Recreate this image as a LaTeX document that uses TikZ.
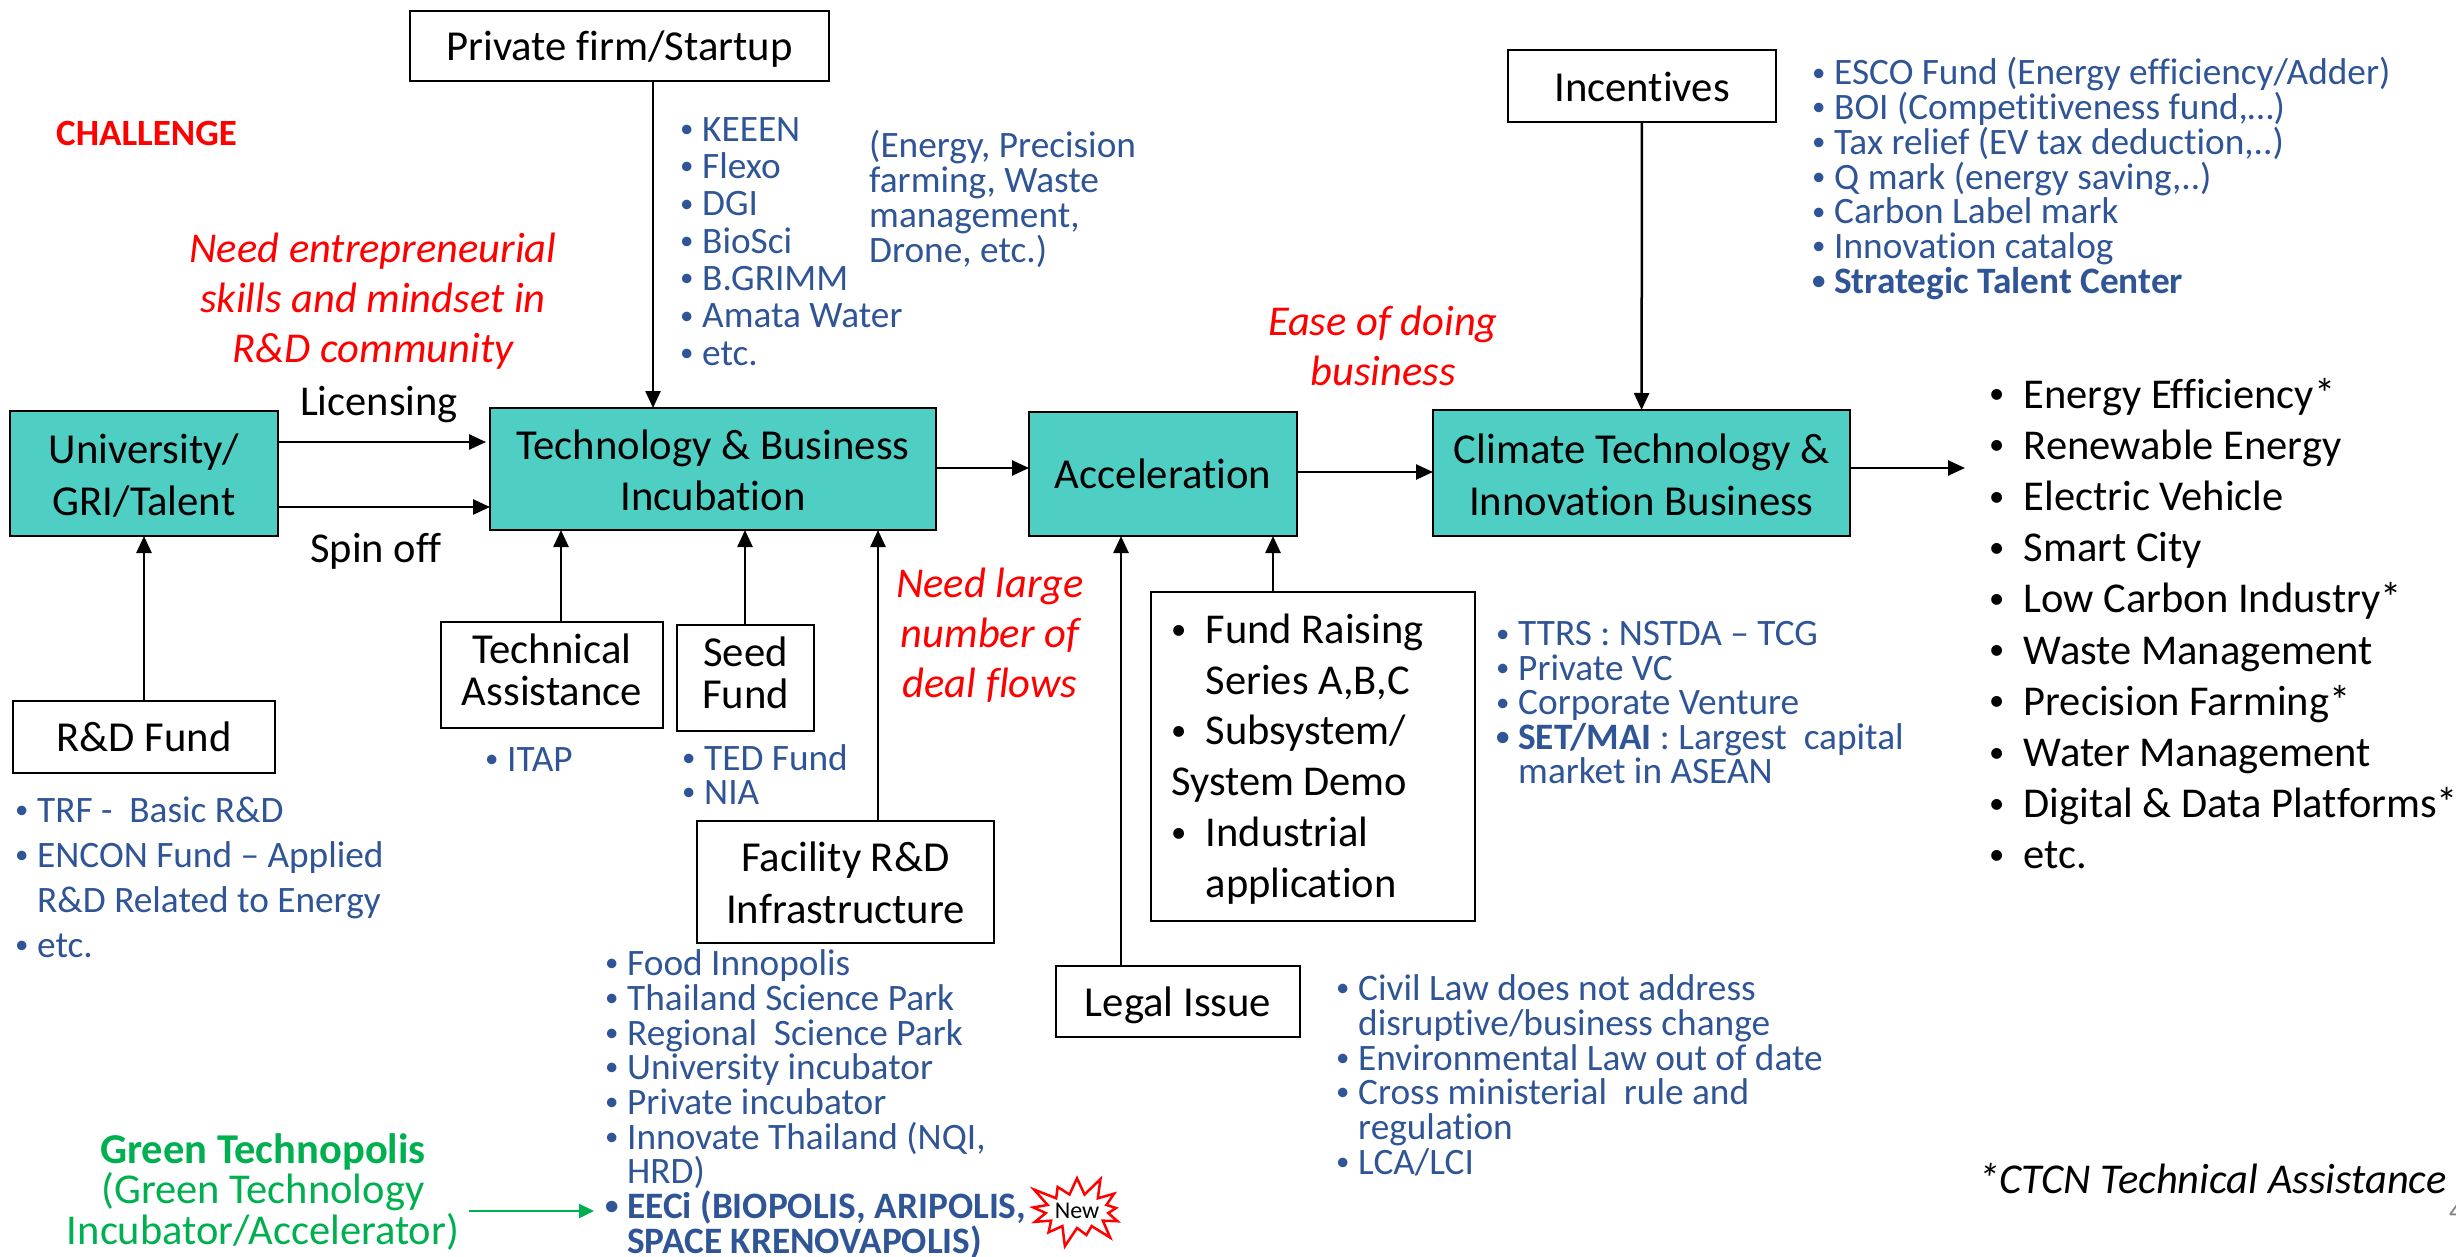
\documentclass[tikz,border=0pt]{standalone}
\usepackage{fontspec}
\setmainfont{Carlito}[Ligatures=NoCommon]
\usetikzlibrary{arrows.meta,shapes.symbols}
\definecolor{teal1}{HTML}{4FCEC4}
\definecolor{blue1}{HTML}{2F5597}
\definecolor{green1}{HTML}{00B050}
\newcommand\fs[2]{\fontsize{#1}{#2}\selectfont\lineskiplimit=-100pt\relax}
\newcommand\dotb{\raisebox{.1em}{\scalebox{.72}{\textbullet}}}
\newcommand\bu{\strut\makebox[22pt][l]{\dotb}}
\newcommand\co{\strut\hspace*{22pt}}
\newcommand\bk{\strut\makebox[34.5pt][l]{\dotb}}
\newcommand\ck{\strut\hspace*{34.5pt}}
\newcommand\tA{\rule{0pt}{40pt}}
\newcommand\tB{\rule[-11pt]{0pt}{11pt}}
\newcommand\up[1]{\rule{0pt}{#1pt}}
\tikzset{
 boxtext/.style={align=center,inner sep=0pt,outer sep=0pt,font=\fs{42.7}{#1},execute at begin node=\tA,execute at end node=\tB},
 tealbox/.style={draw=black,fill=teal1,line width=2.5pt,boxtext=51.5},
 whitebox/.style={draw=black,fill=white,line width=2pt,boxtext=#1},
 whitebox/.default=51.5,
 arr/.style={line width=2.5pt,-{Triangle[length=17pt,width=15pt]}},
 blue32/.style={text=blue1,align=left,anchor=north west,inner sep=0pt,font=\fs{37.3}{#1}},
 redtext/.style={text=red,align=center,inner sep=0pt,font=\fs{42.5}{50}\itshape},
 plain/.style={inner sep=0pt,font=\fs{42.5}{51}},
}
\begin{document}
\begin{tikzpicture}[x=1pt,y=-1pt]
\path[use as bounding box,fill=white] (0,0) rectangle (2456,1257);
% boxes
\node[whitebox,minimum width=419pt,minimum height=70pt] (priv) at (619.5,46) {Private firm/Startup};
\node[whitebox,minimum width=268pt,minimum height=72pt] (inc) at (1642,86) {\up{43}Incentives};
\node[tealbox,minimum width=268pt,minimum height=125pt] (uni) at (144,473.5) {\up{43}University/\\GRI/Talent};
\node[tealbox,minimum width=446pt,minimum height=122pt] (tech) at (713,469) {\up{43}Technology \& Business\\Incubation};
\node[tealbox,minimum width=268pt,minimum height=124pt] (acc) at (1163,474) {Acceleration};
\node[tealbox,minimum width=417pt,minimum height=126pt] (clim) at (1641.5,473) {\up{44}Climate Technology \&\\Innovation Business};
\node[whitebox,minimum width=262pt,minimum height=72pt] (rd) at (144,737) {R\&D Fund};
\node[whitebox=42,minimum width=222pt,minimum height=106pt] (ta) at (552,675) {Technical\\Assistance};
\node[whitebox=42,minimum width=137pt,minimum height=106pt] (seed) at (745.5,678) {Seed\\Fund};
\node[whitebox,minimum width=297pt,minimum height=122pt] (fac) at (845.5,882) {\up{42}Facility R\&D\\Infrastructure};
\node[draw=black,fill=white,line width=2pt,inner sep=0pt,outer sep=0pt,minimum width=324pt,minimum height=329pt] (fund) at (1313,756.5) {};
\node[whitebox,minimum width=244pt,minimum height=71pt] (legal) at (1178,1001.5) {Legal Issue};
\node[anchor=north west,align=left,inner sep=0pt,font=\fs{42.5}{50.8}] (fundt) at (1171,607.5) {\bk Fund Raising\\\ck Series A,B,C\\\bk Subsystem/\\\strut System Demo\\\bk Industrial\\\ck application};
% named x positions
\coordinate (xp) at (653,0);
\coordinate (xr) at (561,0);
\coordinate (xs) at (745,0);
\coordinate (xf) at (878,0);
\coordinate (xl) at (1121,0);
\coordinate (xq) at (1273,0);
\coordinate (y1) at (0,442);
\coordinate (y2) at (0,507);
\coordinate (y3) at (0,468);
\coordinate (y4) at (0,472);
\coordinate (out) at (1965,468);
\coordinate (gs) at (469,1211);
\coordinate (ge) at (594,1211);
% connectors
\draw[arr] (priv.south -| xp) -- (tech.north -| xp);
\draw[arr,shorten >=4pt] (uni.east |- y1) -- (tech.west |- y1);
\draw[arr] (uni.east |- y2) -- (tech.west |- y2);
\draw[arr] (tech.east |- y3) -- (acc.west |- y3);
\draw[arr] (acc.east |- y4) -- (clim.west |- y4);
\draw[arr] (clim.east |- out) -- (out);
\draw[arr] (inc) -- (clim);
\draw[arr] (rd) -- (uni);
\draw[arr] (ta.north -| xr) -- (tech.south -| xr);
\draw[arr] (seed.north -| xs) -- (tech.south -| xs);
\draw[arr] (fac.north -| xf) -- (tech.south -| xf);
\draw[arr] (legal.north -| xl) -- (acc.south -| xl);
\draw[arr] (fund.north -| xq) -- (acc.south -| xq);
\draw[line width=2.5pt,draw=green1,-{Triangle[length=15pt,width=14pt]}] (gs) -- (ge);
% blue lists
\node[blue32=37.3] (la) at (680,115) {\bu KEEEN\\\bu Flexo\\\bu DGI\\\bu BioSci\\\bu B.GRIMM\\\bu Amata Water\\\bu etc.};
\node[blue32=35] (lb) at (869,130) {\strut(Energy, Precision\\\strut farming, Waste\\\strut management,\\\strut Drone, etc.)};
\node[blue32=34.7] (lc) at (1812,57.5) {\bu ESCO Fund (Energy efficiency/Adder)\\\bu BOI (Competitiveness fund,…)\\\bu Tax relief (EV tax deduction,..)\\\bu Q mark (energy saving,..)\\\bu Carbon Label mark\\\bu Innovation catalog\\\textbf{\bu Strategic Talent Center}};
\node[blue32=45] (ld) at (15,791) {\bu TRF -\ \ Basic R\&D\\\bu ENCON Fund – Applied\\\co R\&D Related to Energy\\\bu etc.};
\node[blue32=37] (le) at (485,745) {\bu ITAP};
\node[blue32=34.5] (lf) at (682,744) {\bu TED Fund\\\bu NIA};
\node[blue32=34.7] (lg) at (605,949.5) {\bu Food Innopolis\\\bu Thailand Science Park\\\bu Regional\ \ Science Park\\\bu University incubator\\\bu Private incubator\\\bu Innovate Thailand (NQI,\\\co HRD)\\\textbf{\bu EECi (BIOPOLIS, ARIPOLIS,}\\\textbf{\co SPACE KRENOVAPOLIS)}};
\node[blue32=34.7] (lh) at (1336,974.5) {\bu Civil Law does not address\\\co disruptive/business change\\\bu Environmental Law out of date\\\bu Cross ministerial\ \ rule and\\\co regulation\\\bu LCA/LCI};
\node[blue32=34.5] (li) at (1496,621.5) {\bu TTRS : NSTDA – TCG\\\bu Private VC\\\bu Corporate Venture\\\textbf{\bu SET/MAI} : Largest\ \ capital\\\co market in ASEAN};
% black list
\node[anchor=north west,align=left,inner sep=0pt,font=\fs{42.5}{51.2}] (lj) at (1989,372) {\bk Energy Efficiency*\\\bk Renewable Energy\\\bk Electric Vehicle\\\bk Smart City\\\bk Low Carbon Industry*\\\bk Waste Management\\\bk Precision Farming*\\\bk Water Management\\\bk Digital \& Data Platforms*\\\bk etc.};
% labels
\node[text=red,font=\fs{37}{42}\bfseries,anchor=west,inner sep=0pt] (chal) at (56,133) {CHALLENGE};
\node[redtext] (r1) at (373,301) {Need entrepreneurial\\skills and mindset in\\R\&D community};
\node[redtext] (r2) at (1383,346) {Ease of doing\\business};
\node[redtext] (r3) at (990,635) {Need large\\number of\\deal flows};
\node[plain] (lic) at (379,405) {Licensing};
\node[plain] (spin) at (376,551) {Spin off};
\node[text=green1,align=center,inner sep=0pt,font=\fs{42.5}{40.5}] (gt) at (263,1192) {\textbf{Green Technopolis}\\(Green Technology\\Incubator/Accelerator)};
\node[starburst,starburst points=13,starburst point height=22pt,draw=red,line width=2.5pt,fill=white,minimum width=80pt,minimum height=78pt,inner sep=0pt,font=\fs{24}{26}] (new) at (1077,1211) {New};
\node[font=\fs{42.5}{46}\itshape,anchor=west,inner sep=0pt] (ctcn) at (1978,1179) {*CTCN Technical Assistance};
\node[text=gray,font=\fs{28}{32},anchor=west,inner sep=0pt] (pg) at (2449,1211) {4};
\end{tikzpicture}
\end{document}
